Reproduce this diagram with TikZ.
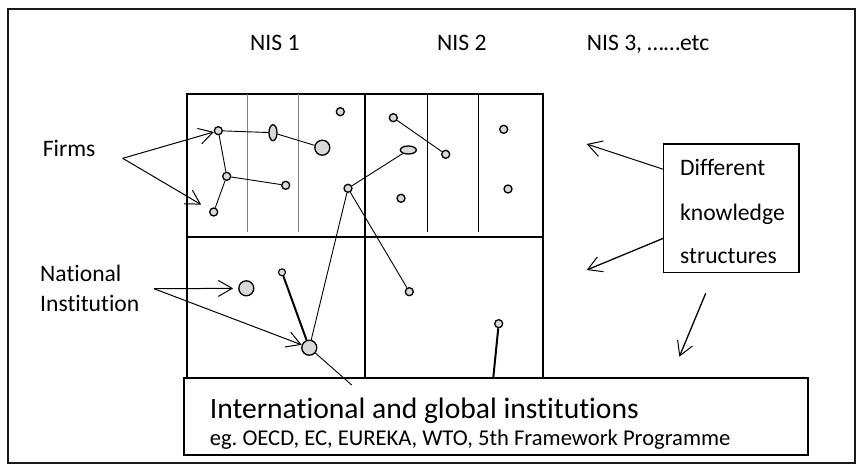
\documentclass[tikz,border=0pt]{standalone}
\usepackage{fontspec}
\setmainfont{Carlito}[Ligatures=CommonOff]
\frenchspacing
\usetikzlibrary{arrows.meta,shapes.geometric}
\tikzset{
  dot/.style={circle,draw=black,fill=black!15,line width=1.3pt,inner sep=0pt,minimum size=8pt},
  bigdot/.style={dot,minimum size=15pt},
  smalldot/.style={dot,minimum size=7pt,line width=1.1pt},
  vell/.style={ellipse,draw=black,fill=black!15,line width=1.3pt,inner sep=0pt,minimum width=8pt,minimum height=16pt},
  hell/.style={ellipse,draw=black,fill=black!15,line width=1.3pt,inner sep=0pt,minimum width=16pt,minimum height=8pt},
  link/.style={line width=0.9pt,black},
  thicklink/.style={line width=2pt,black},
  pointer/.style={line width=1pt,black,-{Straight Barb[angle=60:16pt,line width=1pt]}},
  grid/.style={line width=1.8pt,black},
  lbl/.style={inner sep=0pt,anchor=base west,font=\fontsize{23.6}{28}\selectfont},
}
\begin{document}
\begin{tikzpicture}[x=1pt,y=-1pt]
\useasboundingbox (0,0) rectangle (864,472);
% outer frame
\draw[line width=2pt,black!90] (8,9) rectangle (855,463);

% NIS grid
\draw[grid] (187,94) rectangle (543,379.5);
\draw[grid] (187,236.7) -- (543,236.7);
\draw[grid] (365,94) -- (365,379.5);
\draw[line width=1.4pt,black!50] (247.7,94) -- (247.7,231.7);
\draw[line width=1.4pt,black!50] (298.7,94) -- (298.7,231.7);
\draw[line width=1pt] (427.7,94) -- (427.7,232);
\draw[line width=1pt] (478.3,94) -- (478.3,232);

% bottom box
\node[draw,line width=1.8pt,fill=white,minimum width=624pt,minimum height=77pt,inner sep=0pt] (intl) at (496,416.5) {};
\node[lbl,font=\fontsize{29.6}{34}\selectfont] (intlt) at (209.6,418) {International and global institutions};
\node[lbl,font=\fontsize{22.6}{27}\selectfont] (intle) at (209.6,445) {eg. OECD, EC, EUREKA, WTO, 5th Framework Programme};

% labels
\node[lbl] (nis1) at (250,50.7) {NIS 1};
\node[lbl] (nis2) at (437,50.7) {NIS 2};
\node[lbl] (nis3) at (586.7,50.7) {NIS 3, ……etc};
\node[lbl] (firms) at (42.7,156.7) {Firms};
\node[lbl] (nat1) at (40,281.7) {National};
\node[lbl] (nat2) at (40,311.7) {Institution};

% knowledge box
\node[draw,line width=1.6pt,minimum width=135.7pt,minimum height=128.3pt,inner sep=0pt] (ks) at (731.2,208.2) {};
\node[lbl] (ks1) at (680,175) {Different};
\node[lbl] (ks2) at (680,220) {knowledge};
\node[lbl] (ks3) at (680,263.5) {structures};

% dots NIS1 upper
\node[dot] (a) at (218.3,130.7) {};
\node[vell] (b) at (273,132.7) {};
\node[bigdot] (c) at (322.3,147.7) {};
\node[dot] (d) at (340.3,111.7) {};
\node[dot] (e) at (226.7,176.3) {};
\node[dot] (f) at (285.7,185.3) {};
\node[dot] (g) at (213.7,212) {};
\node[dot] (h) at (348,188.3) {};
% NIS2 upper
\node[dot] (i) at (393.3,117.7) {};
\node[dot] (j) at (445.7,154.3) {};
\node[hell] (k) at (408.3,150) {};
\node[dot] (l) at (401,198.3) {};
\node[dot] (m) at (503.7,129.3) {};
\node[dot] (n) at (508,189) {};
% lower left
\node[bigdot] (o) at (246.3,288.3) {};
\node[smalldot] (p) at (282,272.3) {};
\node[bigdot] (q) at (309.3,347.7) {};
% lower right
\node[dot] (r) at (409.3,291.7) {};
\node[dot] (s) at (498.7,323.7) {};

\coordinate (qi) at (351.7,385);
\coordinate (si) at (493.3,377.5);

% links
\draw[link] (a) -- (b);
\draw[link] (b) -- (c);
\draw[link] (a) -- (e);
\draw[link] (e) -- (f);
\draw[link] (e) -- (g);
\draw[link] (i) -- (j);
\draw[link] (h) -- (k);
\draw[link] (h) -- (q);
\draw[link] (h) -- (r);
\draw[thicklink] (p) -- (q);
\draw[link] (q) -- (qi);
\draw[thicklink] (s) -- (si);

% pointer arrows
\coordinate (fa) at (122.7,158.3);
\draw[pointer] (fa) -- (a);
\draw[pointer,shorten >=10pt] (fa) -- (g);
\coordinate (na) at (154,288.7);
\draw[pointer,shorten >=5pt] (na) -- (o);
\draw[pointer] (na) -- (q);

\coordinate (k1) at (663.3,169.3);
\coordinate (t1) at (586.7,144);
\coordinate (k2) at (663.3,238.3);
\coordinate (t2) at (586.7,270);
\coordinate (k3) at (705.7,293.3);
\coordinate (t3) at (679.3,356.7);
\draw[pointer] (k1) -- (t1);
\draw[pointer,line width=1.3pt] (k2) -- (t2);
\draw[pointer,line width=1.3pt] (k3) -- (t3);
\end{tikzpicture}
\end{document}
